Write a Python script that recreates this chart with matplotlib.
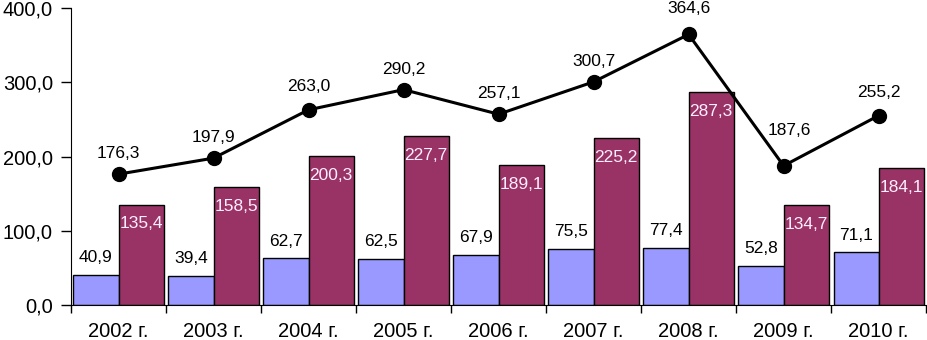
import numpy as np
import matplotlib.pyplot as plt

plt.rcParams['font.family'] = ['Liberation Sans', 'DejaVu Sans']

years = ['2002 г.', '2003 г.', '2004 г.', '2005 г.', '2006 г.',
         '2007 г.', '2008 г.', '2009 г.', '2010 г.']
blue_vals = [40.9, 39.4, 62.7, 62.5, 67.9, 75.5, 77.4, 52.8, 71.1]
red_vals = [135.4, 158.5, 200.3, 227.7, 189.1, 225.2, 287.3, 134.7, 184.1]
line_vals = [176.3, 197.9, 263.0, 290.2, 257.1, 300.7, 364.6, 187.6, 255.2]


def fmt(v):
    return ('%.1f' % v).replace('.', ',')


fig = plt.figure(figsize=(9.28, 3.4), dpi=100)
ax = fig.add_axes([0.0765, 0.103, 0.9215, 0.873])

x = np.arange(len(years))
w = 0.475
ax.bar(x - w / 2, blue_vals, w, color='#9999FF', edgecolor='black', linewidth=1)
ax.bar(x + w / 2, red_vals, w, color='#993366', edgecolor='black', linewidth=1)
ax.plot(x, line_vals, color='black', linewidth=2.2, marker='o', markersize=10)

# line labels: offset in pixels above the marker
line_off = [13, 13, 16, 13, 13, 13, 18, 28, 16]
line_dx = [0, 0, 0, 0, 0, 0, 0, 6, 0]
for i in range(len(years)):
    ax.text(x[i] - w / 2, blue_vals[i] + 13, fmt(blue_vals[i]), ha='center',
            va='bottom', fontsize=12.5)
    ax.text(x[i] + w / 2, red_vals[i] - 16, fmt(red_vals[i]), ha='center',
            va='top', fontsize=12.5, color='#FFEEFF')
    ax.annotate(fmt(line_vals[i]), (x[i], line_vals[i]),
                xytext=(line_dx[i], line_off[i]), textcoords='offset pixels',
                ha='center', va='bottom', fontsize=12.5)

ax.set_xlim(-0.5, len(years) - 0.5)
ax.set_ylim(0, 400)
ax.set_yticks([0, 100, 200, 300, 400])
ax.set_yticklabels([fmt(v) for v in [0, 100, 200, 300, 400]], fontsize=14.5)
ax.set_xticks(x)
ax.set_xticklabels(years, fontsize=14.5)
ax.set_xticks(np.arange(len(years) + 1) - 0.5, minor=True)
ax.tick_params(axis='x', which='major', length=0, pad=12)
ax.tick_params(axis='x', which='minor', length=6, width=1)
ax.tick_params(axis='y', length=7, width=1, direction='out', pad=6)
ax.spines['top'].set_visible(False)
ax.spines['right'].set_visible(False)

fig.savefig('out.png', dpi=100)
